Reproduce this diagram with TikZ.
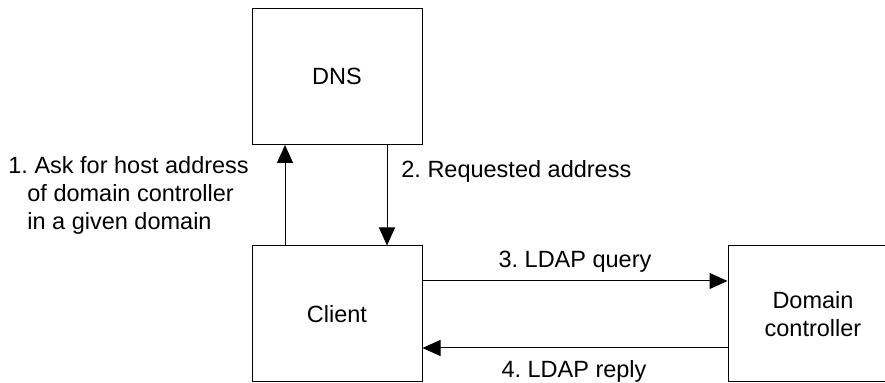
\documentclass[tikz,border=0pt]{standalone}
\usepackage{fontspec}
\setmainfont{Liberation Sans}
\usetikzlibrary{arrows.meta, positioning}
\frenchspacing

\begin{document}
\begin{tikzpicture}[
  x=0.5pt, y=-0.5pt,
  font=\fontsize{11.75}{14}\selectfont,
  hostbox/.style={draw, line width=0.5pt, minimum width=85pt, minimum height=68pt, align=center, inner sep=0pt},
  msg/.style={draw, line width=0.5pt, -{Triangle[length=9pt, width=8pt]}},
  lbl/.style={inner sep=0pt}
]
  \useasboundingbox (0,0) rectangle (885,383);
  \node[hostbox] (dns) at (337, 76.5) {DNS};
  \node[hostbox] (client) at (337, 314) {Client};
  \node[hostbox] (dc) at (813, 314) {Domain\\controller};

  \draw[msg] ([xshift=-26pt]client.north) -- ([xshift=-26pt]dns.south);
  \draw[msg] ([xshift=25pt]dns.south) -- ([xshift=25pt]client.north);
  \draw[msg] ([yshift=16.5pt]client.east) -- ([yshift=16.5pt]dc.west);
  \draw[msg] ([yshift=-17pt]dc.west) -- ([yshift=-17pt]client.west -| client.east);

  \node[lbl, align=left, anchor=north west] (ask) at (8, 156) {1. Ask for host address\\\hspace*{9.5pt}of domain controller\\\hspace*{9.5pt}in a given domain};
  \node[lbl, anchor=base west] (answer) at (401, 178) {2. Requested address};
  \node[lbl, anchor=base] (query) at (575, 268) {3. LDAP query};
  \node[lbl, anchor=base] (reply) at (574, 378) {4. LDAP reply};
\end{tikzpicture}
\end{document}
